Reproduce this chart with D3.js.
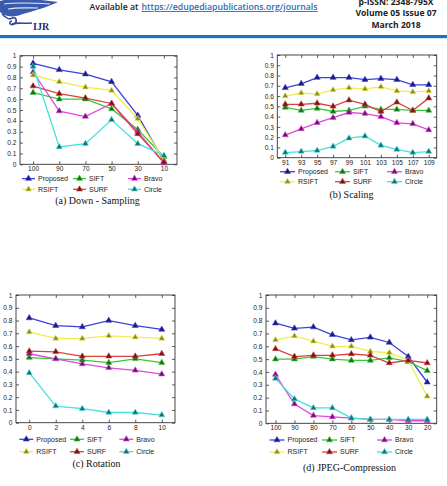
<!DOCTYPE html>
<html>
<head>
<meta charset="utf-8">
<script src="https://cdn.jsdelivr.net/npm/d3@7"></script>
<style>
  body { margin: 0; background: #fff; }
  svg { display: block; }
</style>
</head>
<body>
<div id="page"></div>
<script>
// series, same order in every panel (legend reads row by row)
const seriesNames = ["Proposed", "SIFT", "Bravo", "RSIFT", "SURF", "Circle"];
const lineColors = ["#3f3fdc", "#36c936", "#e046e0", "#eeee50", "#da4040", "#46e0e0"];
const markColors = ["#1b1b78", "#1d6a1d", "#6e126e", "#8a8a28", "#6e1818", "#1a6e6e"];

const yTicks = [0, 0.1, 0.2, 0.3, 0.4, 0.5, 0.6, 0.7, 0.8, 0.9, 1];

// (a) down sampling
const downX = ["100", "90", "70", "50", "30", "10"];
const downValues = [
  [0.93, 0.87, 0.83, 0.76, 0.45, 0.03],
  [0.66, 0.60, 0.60, 0.51, 0.32, 0.07],
  [0.85, 0.49, 0.44, 0.56, 0.30, 0.01],
  [0.82, 0.76, 0.71, 0.68, 0.42, 0.04],
  [0.72, 0.65, 0.61, 0.56, 0.28, 0.02],
  [0.90, 0.16, 0.19, 0.41, 0.19, 0.08]
];

// (b) scaling
const scaleX = ["91", "93", "95", "97", "99", "101", "103", "105", "107", "109"];
const scaleValues = [
  [0.68, 0.72, 0.78, 0.78, 0.78, 0.76, 0.77, 0.76, 0.71, 0.71],
  [0.49, 0.46, 0.48, 0.45, 0.46, 0.50, 0.47, 0.47, 0.46, 0.46],
  [0.22, 0.28, 0.34, 0.39, 0.44, 0.43, 0.40, 0.34, 0.33, 0.27],
  [0.60, 0.63, 0.62, 0.66, 0.68, 0.67, 0.69, 0.65, 0.64, 0.65],
  [0.52, 0.52, 0.53, 0.50, 0.56, 0.52, 0.45, 0.54, 0.46, 0.58],
  [0.05, 0.06, 0.07, 0.11, 0.19, 0.21, 0.12, 0.08, 0.05, 0.06]
];

// (c) rotation
const rotX = ["0", "2", "4", "6", "8", "10"];
const rotValues = [
  [0.82, 0.76, 0.75, 0.80, 0.76, 0.73],
  [0.51, 0.50, 0.49, 0.47, 0.50, 0.47],
  [0.54, 0.50, 0.46, 0.43, 0.41, 0.38],
  [0.71, 0.66, 0.66, 0.68, 0.67, 0.66],
  [0.56, 0.555, 0.52, 0.52, 0.52, 0.54],
  [0.39, 0.13, 0.11, 0.08, 0.08, 0.06]
];

// (d) jpeg compression
const jpegX = ["100", "90", "80", "70", "60", "50", "40", "30", "20"];
const jpegValues = [
  [0.78, 0.74, 0.75, 0.69, 0.65, 0.67, 0.63, 0.52, 0.32],
  [0.50, 0.50, 0.52, 0.50, 0.49, 0.49, 0.51, 0.48, 0.41],
  [0.38, 0.15, 0.06, 0.05, 0.04, 0.03, 0.03, 0.02, 0.02],
  [0.65, 0.68, 0.64, 0.60, 0.60, 0.56, 0.55, 0.49, 0.21],
  [0.58, 0.52, 0.53, 0.53, 0.54, 0.53, 0.47, 0.49, 0.47],
  [0.35, 0.19, 0.12, 0.12, 0.04, 0.03, 0.03, 0.03, 0.03]
];

const W = 447, H = 486;
const svg = d3.select("#page").append("svg")
  .attr("width", W).attr("height", H)
  .style("font-family", "'Liberation Sans', Arial, sans-serif");

// ---- journal header ----
function drawHeader(svg) {
  const h = svg.append("g");
  // logo (rough wings + IJR)
  h.append("path")
    .attr("d", "M0,1 C14,-3 36,-1 58,2 C46,8 32,11 20,15 C11,18 4,16 0,12 Z")
    .attr("fill", "#3a5aae");
  h.append("path")
    .attr("d", "M4,4 C18,2 34,3 50,4 M8,9 C18,7 28,8 38,8")
    .attr("stroke", "#dfe6f5").attr("stroke-width", 1.2).attr("fill", "none");
  h.append("path")
    .attr("d", "M2,14 C6,18 10,20 12,18 C16,16 18,22 14,24 C10,26 8,22 12,21")
    .attr("stroke", "#30479a").attr("stroke-width", 1.6).attr("fill", "none");
  h.append("path")
    .attr("d", "M12,24 C18,22 24,24 32,23")
    .attr("stroke", "#30479a").attr("stroke-width", 1.6).attr("fill", "none");
  h.append("text")
    .attr("x", 33).attr("y", 29.5)
    .attr("font-family", "'Liberation Serif', serif")
    .attr("font-weight", "bold").attr("font-size", 10)
    .attr("fill", "#1c2d78").text("IJR");

  h.append("text")
    .attr("x", 89.5).attr("y", 10)
    .attr("font-family", "'Open Sans', sans-serif").attr("font-weight", 600)
    .attr("font-size", 9).attr("fill", "#222")
    .attr("textLength", 49).attr("lengthAdjust", "spacingAndGlyphs")
    .text("Available at");
  h.append("text")
    .attr("x", 141.5).attr("y", 10)
    .attr("font-family", "'Open Sans', sans-serif").attr("font-weight", 600)
    .attr("font-size", 9).attr("fill", "#2b6cb8")
    .attr("text-decoration", "underline")
    .attr("textLength", 176).attr("lengthAdjust", "spacingAndGlyphs")
    .text("https://edupediapublications.org/journals");

  // first line is clipped by the page top, as in the scan
  const right = ["p-ISSN: 2348-795X", "Volume 05 Issue 07", "March 2018"];
  h.selectAll("text.issn").data(right).join("text")
    .attr("class", "issn")
    .attr("x", 396).attr("y", (d, i) => 5 + i * 11.3)
    .attr("text-anchor", "middle")
    .attr("font-family", "'Open Sans', sans-serif").attr("font-weight", 700)
    .attr("font-size", 8.6).attr("fill", "#222")
    .text(d => d);

  h.append("rect").attr("x", 0).attr("y", 35).attr("width", W).attr("height", 3.2)
    .attr("fill", "#1f74bd");
}
drawHeader(svg);

// ---- chart factory ----
function LineChart() {
  let frame = { left: 0, right: 100, top: 0, bottom: 100 };
  let labels = [];
  let values = [];
  let legend = { rows: [0, 10], cols: [0, 50, 100], len: 14 };
  let caption = { text: "", x: 0, y: 0 };

  function exports(container) {
    const f = frame;
    const g = container.append("g");
    const x = d3.scalePoint().domain(labels).range([f.left, f.right]).padding(0.5);
    const y = d3.scaleLinear().domain([0, 1]).range([f.bottom, f.top]);

    // inward ticks on all four sides
    const bottom = g.append("g").attr("transform", `translate(0,${f.bottom})`)
      .call(d3.axisBottom(x).tickSizeInner(-3).tickSizeOuter(0).tickPadding(2.5));
    const top = g.append("g").attr("transform", `translate(0,${f.top})`)
      .call(d3.axisTop(x).tickSizeInner(-3).tickSizeOuter(0).tickFormat(""));
    const left = g.append("g").attr("transform", `translate(${f.left},0)`)
      .call(d3.axisLeft(y).tickValues(yTicks).tickSizeInner(-3).tickSizeOuter(0)
        .tickPadding(3.5).tickFormat(d => String(d)));
    const rightAx = g.append("g").attr("transform", `translate(${f.right},0)`)
      .call(d3.axisRight(y).tickValues(yTicks).tickSizeInner(-3).tickSizeOuter(0).tickFormat(""));
    [bottom, top, left, rightAx].forEach(a => {
      a.select(".domain").remove();
      a.selectAll("line").attr("stroke", "#333").attr("stroke-width", 0.8);
      a.selectAll("text").attr("font-size", 6.6).attr("fill", "#222")
        .attr("font-family", "'Liberation Sans', Arial, sans-serif");
    });

    g.append("rect")
      .attr("x", f.left).attr("y", f.top)
      .attr("width", f.right - f.left).attr("height", f.bottom - f.top)
      .attr("fill", "none").attr("stroke", "#333").attr("stroke-width", 0.9);

    const line = d3.line().x((d, i) => x(labels[i])).y(d => y(d));
    const tri = d3.symbol(d3.symbolTriangle, 16);

    values.forEach((vals, s) => {
      g.append("path").datum(vals)
        .attr("d", line).attr("fill", "none")
        .attr("stroke", lineColors[s]).attr("stroke-width", 1.3);
      g.selectAll(null).data(vals).join("path")
        .attr("d", tri)
        .attr("transform", (d, i) => `translate(${x(labels[i])},${y(d)})`)
        .attr("fill", markColors[s])
        .attr("stroke", lineColors[s]).attr("stroke-width", 0.6);
    });

    // legend: 3 columns x 2 rows
    seriesNames.forEach((name, s) => {
      const lx = legend.cols[s % 3], ly = legend.rows[Math.floor(s / 3)];
      const item = g.append("g");
      item.append("line")
        .attr("x1", lx).attr("x2", lx + legend.len)
        .attr("y1", ly).attr("y2", ly)
        .attr("stroke", lineColors[s]).attr("stroke-width", 1.3);
      item.append("path").attr("d", tri)
        .attr("transform", `translate(${lx + legend.len / 2},${ly})`)
        .attr("fill", markColors[s]).attr("stroke", lineColors[s]).attr("stroke-width", 0.6);
      item.append("text")
        .attr("x", lx + legend.len + 3).attr("y", ly).attr("dy", "0.35em")
        .attr("font-size", 7).attr("fill", "#222")
        .text(name);
    });

    g.append("text")
      .attr("x", caption.x).attr("y", caption.y)
      .attr("text-anchor", "middle")
      .attr("font-family", "'Liberation Serif', 'Times New Roman', serif")
      .attr("font-size", 10).attr("fill", "#111")
      .text(caption.text);
  }

  // getters / setters
  exports.frame = function(_) { if (!_) return frame; frame = _; return this; };
  exports.labels = function(_) { if (!_) return labels; labels = _; return this; };
  exports.values = function(_) { if (!_) return values; values = _; return this; };
  exports.legend = function(_) { if (!_) return legend; legend = _; return this; };
  exports.caption = function(_) { if (!_) return caption; caption = _; return this; };

  return exports;
}

const chartA = LineChart()
  .frame({ left: 20, right: 177, top: 55.7, bottom: 164.3 })
  .labels(downX).values(downValues)
  .legend({ rows: [178.6, 189.3], cols: [22, 73, 128], len: 13 })
  .caption({ text: "(a) Down - Sampling", x: 97.5, y: 204 });

const chartB = LineChart()
  .frame({ left: 277.3, right: 436.7, top: 55, bottom: 157.7 })
  .labels(scaleX).values(scaleValues)
  .legend({ rows: [171.7, 181.7], cols: [280, 335, 387], len: 15 })
  .caption({ text: "(b) Scaling", x: 351.5, y: 198 });

const chartC = LineChart()
  .frame({ left: 16, right: 175, top: 295, bottom: 422.7 })
  .labels(rotX).values(rotValues)
  .legend({ rows: [439.3, 451.7], cols: [19.3, 70, 119.3], len: 14 })
  .caption({ text: "(c) Rotation", x: 96.5, y: 467 });

const chartD = LineChart()
  .frame({ left: 266, right: 436.7, top: 295, bottom: 423.3 })
  .labels(jpegX).values(jpegValues)
  .legend({ rows: [440, 452], cols: [269.5, 322, 377], len: 15 })
  .caption({ text: "(d) JPEG-Compression", x: 349.5, y: 471 });

svg.call(chartA);
svg.call(chartB);
svg.call(chartC);
svg.call(chartD);
</script>
</body>
</html>
